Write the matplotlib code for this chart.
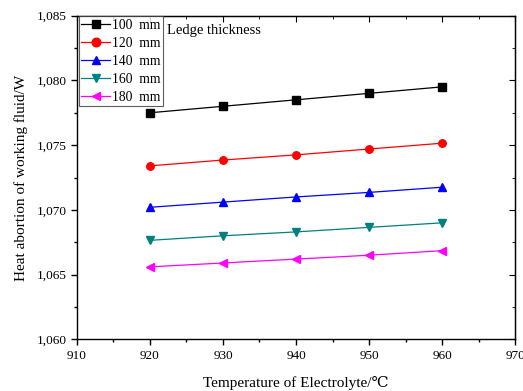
import matplotlib

matplotlib.use("Agg")
import matplotlib.pyplot as plt
from matplotlib.ticker import MultipleLocator, FuncFormatter

plt.rcParams["font.family"] = ["Liberation Serif", "DejaVu Serif"]

temperature = [920, 930, 940, 950, 960]
labels = ["100  mm", "120  mm", "140  mm", "160  mm", "180  mm"]
heat_100 = [1077.5, 1078.0, 1078.5, 1079.0, 1079.5]
heat_120 = [1073.4, 1073.85, 1074.25, 1074.7, 1075.15]
heat_140 = [1070.2, 1070.6, 1071.0, 1071.35, 1071.75]
heat_160 = [1067.65, 1068.0, 1068.3, 1068.65, 1069.0]
heat_180 = [1065.6, 1065.9, 1066.2, 1066.5, 1066.85]

series = [heat_100, heat_120, heat_140, heat_160, heat_180]
colors = ["#000000", "#ff0000", "#0000ff", "#008080", "#ff00ff"]
markers = ["s", "o", "^", "v", "<"]

fig = plt.figure(figsize=(5.23, 3.91), dpi=100)
ax = fig.add_axes([0.147, 0.132, 0.838, 0.828])

for vals, lab, c, m in zip(series, labels, colors, markers):
    ax.plot(temperature, vals, color=c, marker=m, markersize=5.4, lw=0.9, label=lab)

ax.set_xlim(910, 970)
ax.set_ylim(1060, 1085)
ax.xaxis.set_major_locator(MultipleLocator(10))
ax.xaxis.set_minor_locator(MultipleLocator(5))
ax.yaxis.set_major_locator(MultipleLocator(5))
ax.yaxis.set_minor_locator(MultipleLocator(2.5))
ax.yaxis.set_major_formatter(FuncFormatter(lambda v, _: f"{v:,.0f}"))
ax.tick_params(which="both", direction="out", labelsize=9.5, width=1.0)
ax.tick_params(which="major", length=4)
ax.tick_params(which="minor", length=2.5)
for s in ax.spines.values():
    s.set_linewidth(1.0)

# inward ticks on the top and right frame
top = ax.secondary_xaxis("top")
top.xaxis.set_major_locator(MultipleLocator(10))
top.xaxis.set_minor_locator(MultipleLocator(5))
top.tick_params(which="both", direction="in", labeltop=False)
top.tick_params(which="major", length=4)
top.tick_params(which="minor", length=2.5)
right = ax.secondary_yaxis("right")
right.yaxis.set_major_locator(MultipleLocator(5))
right.yaxis.set_minor_locator(MultipleLocator(2.5))
right.tick_params(which="both", direction="in", labelright=False)
right.tick_params(which="major", length=4)
right.tick_params(which="minor", length=2.5)

ax.set_xlabel("Temperature of Electrolyte/\u2103", fontsize=11, labelpad=10)
ax.set_ylabel("Heat abortion of working fluid/W", fontsize=11, labelpad=6)

leg = ax.legend(loc="upper left", bbox_to_anchor=(0.004, 0.998), fontsize=9.8,
                frameon=True, fancybox=False, edgecolor="#333333",
                borderaxespad=0.0, borderpad=0.2, labelspacing=0.36,
                handlelength=2.1, handletextpad=0.15, markerscale=1.15)
leg.get_frame().set_linewidth(0.8)
ax.text(0.205, 0.953, "Ledge thickness", transform=ax.transAxes, fontsize=10.5,
        va="center", ha="left")

fig.savefig("out.png", dpi=100)
